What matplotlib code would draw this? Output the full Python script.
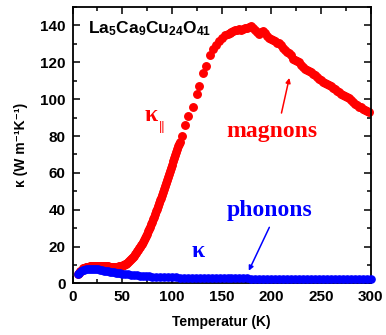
import matplotlib.pyplot as plt
from matplotlib.ticker import MultipleLocator

plt.rcParams['font.family'] = ['Liberation Sans', 'DejaVu Sans']
plt.rcParams['mathtext.fontset'] = 'custom'
plt.rcParams['mathtext.rm'] = 'Liberation Sans:bold'
plt.rcParams['mathtext.it'] = 'Liberation Sans:bold'
plt.rcParams['mathtext.bf'] = 'Liberation Sans:bold'

# kappa parallel (red): magnon + phonon contribution
T_par = [5, 6, 7, 8, 9, 10, 11, 12, 13, 14, 15, 16, 17, 18, 19, 20, 21, 22, 23, 24,
         25, 26, 27, 28, 29, 30, 31, 32, 33, 34, 35, 36, 37, 38, 39, 40, 41, 42, 43, 44,
         45, 46, 47, 48, 49, 50, 51, 52, 53, 54, 55, 56, 57, 58, 59, 60, 61, 62, 63, 64,
         65, 66, 67, 68, 69, 70, 71, 72, 73, 74, 75, 76, 77, 78, 79, 80, 81, 82, 83, 84,
         85, 86, 87, 88, 89, 90, 91, 92, 93, 94, 95, 96, 97, 98, 99, 100, 101, 102, 103,
         104, 105, 106, 107, 108,
         110, 113, 116, 121, 125, 127.5, 131.5, 134, 138, 141, 144, 147, 150, 153,
         156, 158, 160, 162, 164, 166, 168, 170, 172, 174, 176, 178, 180, 182, 184, 186,
         188, 190, 192, 194, 196, 198, 200, 202, 204, 206, 208, 210, 212, 214, 216, 218,
         220, 222, 224, 226, 228, 230, 232, 234, 236, 238, 240, 242, 244, 246, 248, 250,
         252, 254, 256, 258, 260, 262, 264, 266, 268, 270, 272, 274, 276, 278, 280, 282,
         284, 286, 288, 290, 292, 294, 296, 298]
k_par = [5.0, 5.8, 6.5, 7.0, 7.4, 7.8, 8.1, 8.3, 8.5, 8.7, 8.9, 9.0, 9.1, 9.2, 9.3,
         9.4, 9.45, 9.5, 9.55, 9.6, 9.6, 9.6, 9.6, 9.6, 9.55, 9.5, 9.45, 9.4, 9.35, 9.3,
         9.25, 9.2, 9.15, 9.1, 9.05, 9.0, 9.0, 9.0, 9.0, 9.0, 9.05, 9.1, 9.2, 9.3, 9.45,
         9.6, 9.8, 10.1, 10.4, 10.8, 11.2, 11.6, 12.1, 12.6, 13.2, 13.8, 14.4, 15.1, 15.8,
         16.6, 17.4, 18.2, 19.0, 19.8, 20.6, 21.5, 22.5, 23.5, 24.6, 25.8, 27.0, 28.2,
         29.5, 30.8, 32.1, 33.5, 34.9, 36.3, 37.7, 39.2, 40.6, 42.1, 43.6, 45.1, 46.6,
         48.2, 49.8, 51.4, 53.0, 54.6, 56.2, 57.8, 59.4, 61.0, 62.7, 64.5, 66.2, 68.0,
         69.8, 71.5, 73.0, 74.5, 75.8, 77.0,
         80, 86, 91, 96, 103, 107, 114, 118, 124, 127, 129.5, 131.5, 133, 135,
         135.5, 136, 136.5, 137, 137.5, 137.6, 138, 137.8, 138.2, 138.5, 138.4, 139,
         139.5, 138.5, 137.5, 136.5, 135.5, 136.5, 137, 136, 134.5, 133, 132.5, 132,
         131.5, 130.5, 130.5, 129.5, 128, 126.5, 125.5, 125, 124, 122, 121, 120.5, 120,
         118.5, 117.5, 116.5, 116, 115.5, 114.5, 113.5, 113, 112, 111, 110.5, 109.5,
         108.5, 108, 107.5, 107, 106, 105.5, 104.5, 104, 103, 102.5, 101.5, 101, 100.5,
         99.5, 98.5, 97.5, 97, 96, 95.5, 94.5, 94, 93.5, 93]

# kappa (blue): phonons only
T_ph = [5, 6, 8, 10, 12, 14, 16, 18, 20, 22, 24, 26, 28, 30, 32, 34, 36, 38, 40, 42,
        44, 46, 48, 50, 53, 56, 59, 62, 65, 68, 71, 74, 77, 80, 84, 88, 92, 96, 100,
        104, 108, 112, 116, 120, 124, 128, 132, 136, 140, 144, 148, 152, 156, 160, 164,
        168, 172, 176, 180, 184, 188, 192, 196, 200, 204, 208, 212, 216, 220, 224, 228,
        232, 236, 240, 244, 248, 252, 256, 260, 264, 268, 272, 276, 280, 284, 288, 292,
        296, 300]
k_ph = [5.0, 5.8, 6.6, 7.1, 7.4, 7.6, 7.7, 7.8, 7.8, 7.8, 7.7, 7.6, 7.4, 7.2, 7.0,
        6.8, 6.6, 6.4, 6.2, 6.0, 5.8, 5.6, 5.4, 5.3, 5.1, 4.9, 4.7, 4.5, 4.3, 4.2, 4.0,
        3.9, 3.8, 3.7, 3.6, 3.5, 3.4, 3.35, 3.3, 3.25, 3.2, 3.15, 3.1, 3.05, 3.0, 3.0,
        2.95, 2.9, 2.9, 2.85, 2.85, 2.8, 2.8, 2.75, 2.75, 2.7, 2.7, 2.7, 2.65, 2.65, 2.6,
        2.6, 2.6, 2.55, 2.55, 2.55, 2.5, 2.5, 2.5, 2.5, 2.45, 2.45, 2.45, 2.45, 2.4, 2.4,
        2.4, 2.4, 2.4, 2.35, 2.35, 2.35, 2.35, 2.35, 2.3, 2.3, 2.3, 2.3, 2.3]

fig = plt.figure(figsize=(3.86, 3.35), dpi=100)
ax = fig.add_axes([0.188, 0.154, 0.772, 0.825])

ax.plot(T_par, k_par, 'o', color='#ff0000', ms=5.4, mec='#ff0000', clip_on=False, zorder=2)
ax.plot(T_ph, k_ph, 'o', color='#0000ff', ms=5.2, mec='#0000ff', clip_on=False, zorder=3)

ax.set_xlim(0, 300)
ax.set_ylim(0, 150)
ax.xaxis.set_major_locator(MultipleLocator(50))
ax.xaxis.set_minor_locator(MultipleLocator(25))
ax.yaxis.set_major_locator(MultipleLocator(20))
ax.yaxis.set_minor_locator(MultipleLocator(10))
ax.tick_params(which='both', direction='in', top=True, right=True, width=1.1)
ax.tick_params(which='major', length=5, labelsize=11, pad=5)
ax.tick_params(which='minor', length=3)
for lab in ax.get_xticklabels() + ax.get_yticklabels():
    lab.set_fontweight('bold')
for s in ax.spines.values():
    s.set_linewidth(1.3)

ax.set_xlabel('Temperatur (K)', fontsize=10, fontweight='bold', labelpad=8)
ax.set_ylabel('κ (W m⁻¹K⁻¹)', fontsize=10, fontweight='bold', labelpad=9)

ax.text(15.5, 135.5, r'$\mathrm{La_5Ca_9Cu_{24}O_{41}}$', fontsize=12.5, va='baseline')

serif = ['Liberation Serif', 'DejaVu Serif']
ax.text(73, 88, 'κ', color='#ff0000', fontsize=17, fontweight='bold', family=serif, va='baseline')
ax.text(87, 83, '||', color='#ff0000', fontsize=9, family=['Liberation Sans'], va='baseline')
ax.text(155, 79.3, 'magnons', color='#ff0000', fontsize=17, fontweight='bold', family=serif, va='baseline')
ax.text(155, 36.7, 'phonons', color='#0000ff', fontsize=17, fontweight='bold', family=serif, va='baseline')
ax.text(119.5, 14.2, 'κ', color='#0000ff', fontsize=17, fontweight='bold', family=serif, va='baseline')

ax.annotate('', xy=(218.8, 113), xytext=(209.7, 91),
            arrowprops=dict(arrowstyle='-|>', color='#ff0000', lw=1.1, mutation_scale=7))
ax.annotate('', xy=(176.2, 5.5), xytext=(199.3, 31.8),
            arrowprops=dict(arrowstyle='-|>', color='#0000ff', lw=1.1, mutation_scale=7))

fig.savefig('out.png', dpi=100)
